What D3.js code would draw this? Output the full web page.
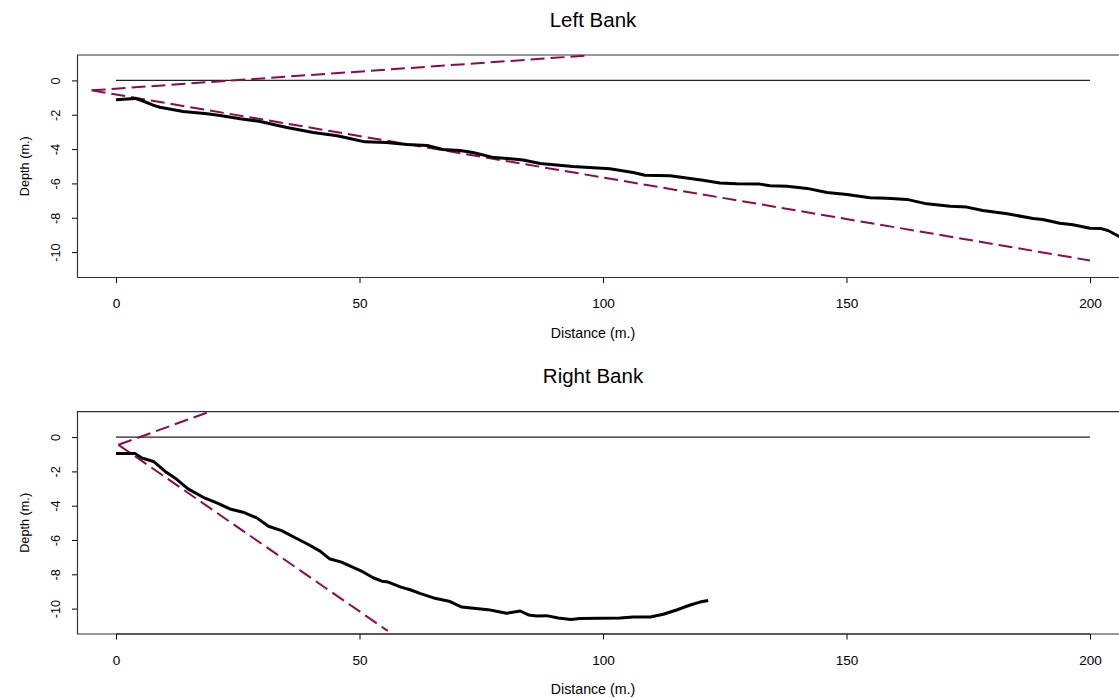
<!DOCTYPE html>
<html>
<head>
<meta charset="utf-8">
<script src="https://cdn.jsdelivr.net/npm/d3@7"></script>
<style>
  body { margin: 0; background: #fff; }
  svg { display: block; }
  text { font-family: "Liberation Sans", Arial, sans-serif; fill: #000; }
</style>
</head>
<body>
<svg id="chart" width="1119" height="698"></svg>
<script>
// ---- data ----
const titles = ["Left Bank", "Right Bank"];
const xTicks = [0, 50, 100, 150, 200];
const yTicks = [0, -2, -4, -6, -8, -10];
const xLabel = "Distance (m.)";
const yLabel = "Depth (m.)";

// Left bank profile: [distance, depth]
const leftProfile = [
  [0, -1.12], [3.9, -1.05], [5.3, -1.17], [7.6, -1.44], [9.0, -1.56], [13.8, -1.81],
  [18.7, -1.94], [21.4, -2.04], [25.5, -2.23], [29.6, -2.39], [35.1, -2.74], [40.5, -3.03],
  [45.4, -3.22], [48.0, -3.38], [51.1, -3.58], [55.5, -3.62], [59.8, -3.73], [63.9, -3.79],
  [67.1, -4.02], [70.6, -4.08], [73.3, -4.20], [77.2, -4.47], [80.3, -4.55], [83.6, -4.64],
  [87.1, -4.84], [93.8, -5.01], [101.4, -5.15], [106.2, -5.36], [108.6, -5.52], [113.8, -5.55],
  [117.9, -5.71], [120.5, -5.81], [124.0, -5.98], [127.5, -6.02], [132.2, -6.04], [134.3, -6.14],
  [137.8, -6.16], [141.9, -6.29], [146.0, -6.53], [150.1, -6.64], [154.8, -6.84], [158.3, -6.86],
  [162.4, -6.93], [166.5, -7.19], [171.3, -7.33], [174.7, -7.38], [178.0, -7.58], [183.0, -7.77],
  [188.3, -8.04], [190.3, -8.10], [193.8, -8.32], [196.5, -8.41], [200.0, -8.61], [202.1, -8.62],
  [203.7, -8.74], [206.0, -9.09], [209.0, -9.40]
];
// Right bank profile
const rightProfile = [
  [0, -0.95], [3.9, -0.95], [5.3, -1.22], [7.7, -1.42], [10.1, -2.0], [12.1, -2.38],
  [14.8, -3.02], [17.9, -3.51], [20.7, -3.84], [23.4, -4.19], [26.1, -4.38], [28.9, -4.71],
  [31.3, -5.20], [34.0, -5.45], [36.8, -5.87], [39.5, -6.26], [41.9, -6.65], [43.8, -7.09],
  [46.3, -7.29], [50.4, -7.81], [52.8, -8.20], [54.6, -8.40], [55.9, -8.45], [58.5, -8.75],
  [60.4, -8.90], [62.4, -9.11], [65.5, -9.40], [68.6, -9.59], [71.0, -9.91], [73.4, -9.98],
  [76.4, -10.06], [78.9, -10.20], [80.2, -10.27], [83.0, -10.14], [84.7, -10.37], [86.4, -10.43],
  [88.4, -10.41], [90.8, -10.55], [93.4, -10.64], [95.3, -10.58], [99.4, -10.56], [103.5, -10.55],
  [106.2, -10.49], [109.7, -10.49], [112.4, -10.33], [115.1, -10.08], [117.9, -9.79],
  [119.9, -9.62], [121.6, -9.53]
];
// Dashed guide lines (pairs of endpoints)
const leftGuides = [
  [[-5.0, -0.58], [97.3, 1.46]],
  [[-5.0, -0.58], [200.0, -10.49]]
];
const rightGuides = [
  [[0.5, -0.45], [19.3, 1.49]],
  [[0.5, -0.45], [55.8, -11.3]]
];
// Water surface reference line
const surfaceLine = [[0, 0], [200, 0]];

// ---- drawing ----
const svg = d3.select("#chart");
const panels = [
  { title: titles[0], profile: leftProfile, guides: leftGuides, top: 55, bottom: 277.5, titleY: 26.5 },
  { title: titles[1], profile: rightProfile, guides: rightGuides, top: 411.7, bottom: 634, titleY: 383.2 }
];
const boxLeft = 77.5, boxRight = 1130;
const x = d3.scaleLinear().domain([0, 200]).range([116, 1090]);

panels.forEach((p, i) => {
  const y = d3.scaleLinear().domain([-11.48, 1.48]).range([p.bottom, p.top]);
  const g = svg.append("g");
  const clipId = "clip" + i;
  svg.append("clipPath").attr("id", clipId)
    .append("rect").attr("x", boxLeft).attr("y", p.top)
    .attr("width", boxRight - boxLeft).attr("height", p.bottom - p.top);

  // title
  g.append("text").attr("x", 593).attr("y", p.titleY)
    .attr("text-anchor", "middle").style("font-size", "20.5px").text(p.title);

  // x axis
  const xa = g.append("g").attr("transform", `translate(0,${p.bottom})`)
    .call(d3.axisBottom(x).tickValues(xTicks).tickSize(5.5).tickFormat(d3.format("d")));
  xa.select(".domain").attr("d", `M${x(0)},0H${x(200)}`).attr("stroke", "#000");
  xa.selectAll(".tick line").attr("stroke", "#000");
  xa.selectAll(".tick text").attr("y", 0).attr("dy", null).attr("transform", "translate(0,30.5)")
    .style("font-size", "13.6px").style("font-family", "Liberation Sans, Arial, sans-serif");

  g.append("text").attr("x", 593).attr("y", p.bottom + 60)
    .attr("text-anchor", "middle").style("font-size", "14.2px").text(xLabel);

  // y axis
  const ya = g.append("g").attr("transform", `translate(${boxLeft},0)`)
    .call(d3.axisLeft(y).tickValues(yTicks).tickSize(5.5).tickFormat(d => d3.format("d")(d).replace("−", "-")));
  ya.select(".domain").remove();
  ya.selectAll(".tick line").attr("stroke", "#000");
  ya.selectAll(".tick text")
    .attr("x", null).attr("dy", null).attr("text-anchor", "middle")
    .attr("transform", "translate(-18,0) rotate(-90)")
    .style("font-size", "12.7px").style("font-family", "Liberation Sans, Arial, sans-serif");

  g.append("text")
    .attr("transform", `translate(28.5,${(p.top + p.bottom) / 2}) rotate(-90)`)
    .attr("text-anchor", "middle").style("font-size", "12.7px").text(yLabel);

  // box
  g.append("path")
    .attr("d", `M${boxRight},${p.top}H${boxLeft}V${p.bottom}H${boxRight}`)
    .attr("fill", "none").attr("stroke", "#333").attr("stroke-width", 1.2);

  const plot = g.append("g").attr("clip-path", `url(#${clipId})`);
  const line = d3.line().x(d => x(d[0])).y(d => y(d[1]));

  plot.append("path").attr("d", line(surfaceLine))
    .attr("fill", "none").attr("stroke", "#222").attr("stroke-width", 1.1);

  p.guides.forEach(seg => {
    plot.append("path").attr("d", line(seg))
      .attr("fill", "none").attr("stroke", "#8B0A50").attr("stroke-width", 2)
      .attr("stroke-dasharray", "14,6");
  });

  plot.append("path").attr("d", line(p.profile))
    .attr("fill", "none").attr("stroke", "#000").attr("stroke-width", 3)
    .attr("stroke-linejoin", "round");
});
</script>
</body>
</html>
